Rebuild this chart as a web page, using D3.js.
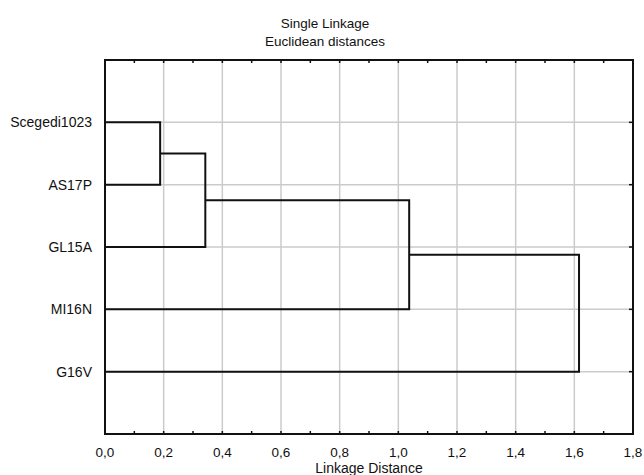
<!DOCTYPE html>
<html>
<head>
<meta charset="utf-8">
<script src="https://cdn.jsdelivr.net/npm/d3@7"></script>
<style>
  body { margin: 0; background: #fff; }
  text { font-family: "Liberation Sans", Arial, sans-serif; fill: #111; }
</style>
</head>
<body>
<div id="chart"></div>
<script>
// leaves from top to bottom
const leaves = ["Scegedi1023", "AS17P", "GL15A", "MI16N", "G16V"]
// merges: [node a, node b, linkage distance]; new nodes get index 5, 6, ...
const merges = [
    [0, 1, 0.188],
    [5, 2, 0.342],
    [6, 3, 1.037],
    [7, 4, 1.616]
]
const majorTicks = [0, 0.2, 0.4, 0.6, 0.8, 1.0, 1.2, 1.4, 1.6, 1.8]
const minorTicks = [0.1, 0.3, 0.5, 0.7, 0.9, 1.1, 1.3, 1.5, 1.7]

const width = 644
const height = 475
const margin = {top: 60, right: 11, bottom: 41, left: 105}
const plotW = width - margin.left - margin.right
const plotH = height - margin.top - margin.bottom

const svg = d3.select("#chart").append("svg")
    .attr("width", width)
    .attr("height", height)

const x = d3.scaleLinear().domain([0, 1.8]).range([margin.left, margin.left + plotW])
const y = d3.scalePoint().domain(leaves).range([margin.top, margin.top + plotH]).padding(1)
const fmt = v => d3.format(".1f")(v).replace(".", ",")

// grid
svg.append("g").selectAll("line")
    .data(majorTicks.slice(1, -1))
    .enter().append("line")
    .attr("x1", d => x(d)).attr("x2", d => x(d))
    .attr("y1", margin.top).attr("y2", margin.top + plotH)
    .attr("stroke", "#cbcbcb").attr("stroke-width", 1.5)
svg.append("g").selectAll("line")
    .data(leaves)
    .enter().append("line")
    .attr("x1", margin.left).attr("x2", margin.left + plotW)
    .attr("y1", d => y(d)).attr("y2", d => y(d))
    .attr("stroke", "#cbcbcb").attr("stroke-width", 1.5)

// dendrogram
const nodes = leaves.map(l => ({y: y(l), h: 0}))
const lines = svg.append("g")
    .attr("fill", "none")
    .attr("stroke", "#111")
    .attr("stroke-width", 2)
merges.forEach(m => {
    const a = nodes[m[0]], b = nodes[m[1]], h = m[2]
    lines.append("path")
        .attr("d", "M" + x(a.h) + "," + a.y + "H" + x(h) + "V" + b.y + "H" + x(b.h))
    nodes.push({y: (a.y + b.y) / 2, h: h})
})

// frame
svg.append("rect")
    .attr("x", margin.left).attr("y", margin.top)
    .attr("width", plotW).attr("height", plotH)
    .attr("fill", "none").attr("stroke", "#111").attr("stroke-width", 2)

// ticks on top and bottom (inside)
const allTicks = majorTicks.concat(minorTicks).filter(d => d > 0 && d < 1.8)
svg.append("g").selectAll("line")
    .data(allTicks)
    .enter().append("line")
    .attr("x1", d => x(d)).attr("x2", d => x(d))
    .attr("y1", margin.top).attr("y2", margin.top + 3)
    .attr("stroke", "#111").attr("stroke-width", 1.5)
svg.append("g").selectAll("line")
    .data(allTicks)
    .enter().append("line")
    .attr("x1", d => x(d)).attr("x2", d => x(d))
    .attr("y1", margin.top + plotH).attr("y2", margin.top + plotH - 3)
    .attr("stroke", "#111").attr("stroke-width", 1.5)
svg.append("g").selectAll("line")
    .data(leaves)
    .enter().append("line")
    .attr("x1", margin.left + plotW).attr("x2", margin.left + plotW - 4)
    .attr("y1", d => y(d)).attr("y2", d => y(d))
    .attr("stroke", "#111").attr("stroke-width", 1.5)

// labels
svg.append("g").selectAll("text")
    .data(majorTicks)
    .enter().append("text")
    .attr("x", d => x(d))
    .attr("y", 457)
    .attr("text-anchor", "middle")
    .style("font-size", "13.5px")
    .text(fmt)
svg.append("g").selectAll("text")
    .data(leaves)
    .enter().append("text")
    .attr("x", 92)
    .attr("y", d => y(d) + 5)
    .attr("text-anchor", "end")
    .style("font-size", "14px")
    .text(d => d)

svg.append("text")
    .attr("x", margin.left + plotW / 2)
    .attr("y", 473)
    .attr("text-anchor", "middle")
    .style("font-size", "14px")
    .text("Linkage Distance")
svg.append("text")
    .attr("x", 325).attr("y", 28)
    .attr("text-anchor", "middle")
    .style("font-size", "13.5px")
    .text("Single Linkage")
svg.append("text")
    .attr("x", 325).attr("y", 46)
    .attr("text-anchor", "middle")
    .style("font-size", "13.5px")
    .text("Euclidean distances")
</script>
</body>
</html>
